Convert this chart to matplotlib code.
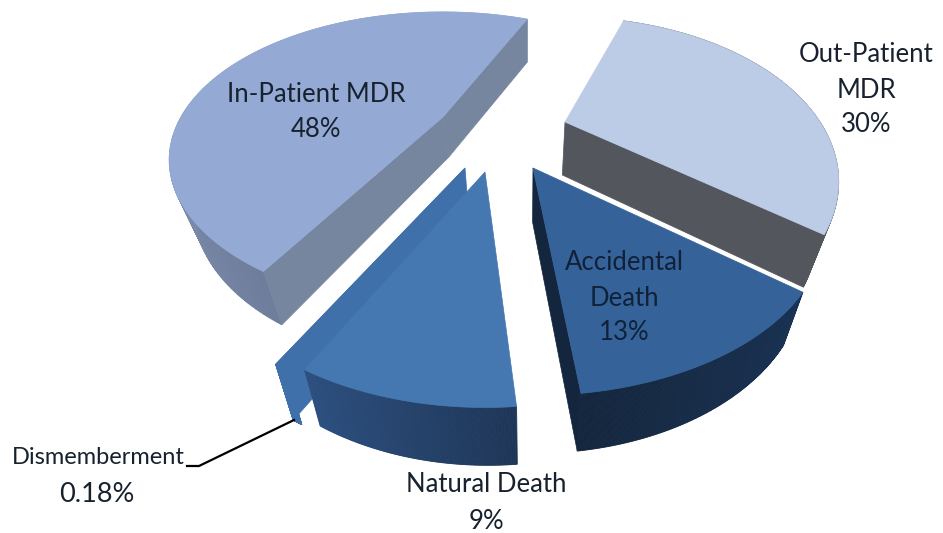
import numpy as np
import matplotlib
matplotlib.use('Agg')
import matplotlib.pyplot as plt
from matplotlib.colors import to_rgb

# chart data, in pie order going clockwise
names = ['Out-Patient MDR', 'Accidental Death', 'Natural Death', 'Dismemberment', 'In-Patient MDR']
shares = [30, 13, 9, 0.18, 48]

# layout of each exploded slice (pixels of the 943x533 picture)
apex_x = [565, 533, 485, 465, 443]
apex_y = [122, 168, 172, 168, 117]
radius_x = [255, 272, 270, 278, 262]
radius_y = [143, 145, 150, 150, 135.5]
perspective = [0.363, 0.363, 0.363, 0.363, 0.29]
apex_depth = [53, 54, 55, 55, 40]
# the drawn pie is not exact, edges are nudged a few degrees
nudge_start = [0, -5, -3.2, -1, -5.5]
nudge_end = [-2, -1, -2, -2, -6]
# radial walls that can be seen (0 first edge, -1 last edge)
walls_shown = [[-1], [-1], [], [-1], [0, -1]]

# styles
top_colors = ['#bccce6', '#36629a', '#4577b0', '#3f70aa', '#94aad4']
arc_colors = [('#5a5e68', '#55585f'), ('#1a3354', '#14263e'), ('#1d3557', '#2d5080'),
              ('#3f70aa', '#3f70aa'), ('#6d7d9b', '#b0c0e0')]
wall_colors = ['#54565e', '#14263e', '#264470', '#3f70aa', '#76869f']

start_angle = 72
vanish_x = 527
shrink = 0.93


def project(i, theta):
    # slice plane to screen, the back of the pie is squeezed by perspective
    u = np.cos(np.radians(theta))
    v = np.sin(np.radians(theta))
    s = 1 / (1 + perspective[i] * v)
    return apex_x[i] + radius_x[i] * u * s, apex_y[i] - radius_y[i] * v * s, s


def mix(c1, c2, t):
    c1 = np.array(to_rgb(c1))
    c2 = np.array(to_rgb(c2))
    return tuple(c1 + (c2 - c1) * t)


fig = plt.figure(figsize=(9.43, 5.33), dpi=100)
ax = fig.add_axes([0, 0, 1, 1])
ax.set_xlim(0, 943)
ax.set_ylim(533, 0)
ax.axis('off')

per_degree = 360 / sum(shares)
edges = start_angle - np.cumsum([0] + shares) * per_degree

# back to front, the dismemberment sliver has to sit behind natural death
for order, i in enumerate([0, 4, 3, 1, 2]):
    t0 = edges[i] + nudge_start[i]
    t1 = edges[i + 1] + nudge_end[i]
    thetas = np.linspace(t0, t1, 160)
    xs, ys, ss = project(i, thetas)
    # bottom face, nearer parts look deeper
    bx = vanish_x + (xs - vanish_x) * shrink
    by = ys + 28 + 19 * ss
    ax0, ay0 = apex_x[i], apex_y[i]
    bx0 = vanish_x + (ax0 - vanish_x) * shrink
    by0 = ay0 + apex_depth[i]

    # outer wall, small facets give the shading
    for k in range(len(thetas) - 1):
        col = mix(arc_colors[i][0], arc_colors[i][1], k / (len(thetas) - 2))
        ax.fill([xs[k], xs[k + 1], bx[k + 1], bx[k]], [ys[k], ys[k + 1], by[k + 1], by[k]],
                color=col, lw=0.6, zorder=order + 1)

    # the radial walls
    for k in walls_shown[i]:
        ax.fill([ax0, xs[k], bx[k], bx0], [ay0, ys[k], by[k], by0],
                color=wall_colors[i], lw=0.5, zorder=order + 1.2)

    # top face
    ax.fill(np.r_[ax0, xs], np.r_[ay0, ys], color=top_colors[i], lw=0.5, zorder=order + 1.5)

# leader line for the small slice
ax.plot([187, 199, 294], [466, 466, 420], color='black', lw=1.6, zorder=20)

# labels
font = 'Lato'
ink = '#17222e'
ax.text(316, 112, 'In-Patient MDR\n48%', ha='center', va='center', fontsize=18.5,
        family=font, color=ink, linespacing=1.5, zorder=20)
ax.text(866, 90, 'Out-Patient\nMDR\n30%', ha='center', va='center', fontsize=18.5,
        family=font, color=ink, linespacing=1.5, zorder=20)
ax.text(624, 298, 'Accidental\nDeath\n13%', ha='center', va='center', fontsize=18.5,
        family=font, color='#0f2238', linespacing=1.5, zorder=20)
ax.text(486, 503, 'Natural Death\n9%', ha='center', va='center', fontsize=18.5,
        family=font, color=ink, linespacing=1.63, zorder=20)
ax.text(98, 458, 'Dismemberment', ha='center', va='center', fontsize=17,
        family=font, color=ink, zorder=20)
ax.text(97, 494, '0.18%', ha='center', va='center', fontsize=19.5,
        family=font, color=ink, zorder=20)

fig.savefig('out.png', dpi=100)
